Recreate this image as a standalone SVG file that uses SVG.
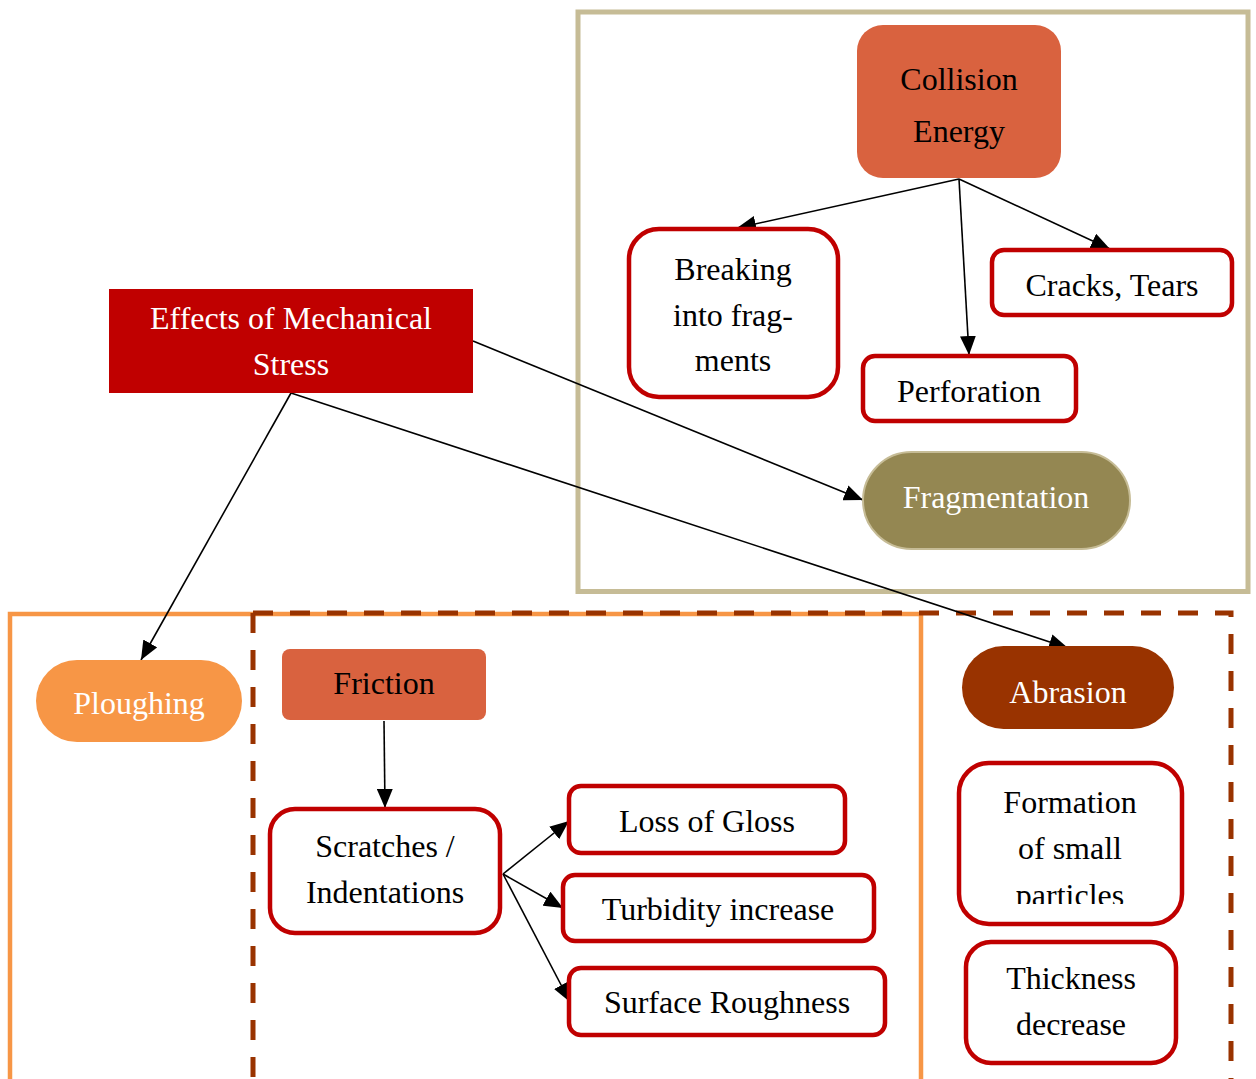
<svg xmlns="http://www.w3.org/2000/svg" width="1256" height="1079" viewBox="0 0 1256 1079">
  <style>
    .t { font-family: "Liberation Serif", "Times New Roman", serif; font-size: 32px; text-anchor: middle; }
    .dark { fill: #000000; }
    .light { fill: #ffffff; }
    .outline { fill: #ffffff; stroke: #C00000; stroke-width: 4.5; }
    .edge { fill: none; stroke: #000000; stroke-width: 1.6; marker-end: url(#arrow); }
    .dash { fill: none; stroke: #993300; stroke-width: 5; stroke-dasharray: 20 17; }
  </style>
  <defs>
    <marker id="arrow" markerUnits="userSpaceOnUse" markerWidth="20" markerHeight="16" refX="19" refY="8" orient="auto">
      <path d="M0,0 L19,8 L0,16 z" fill="#000000"/>
    </marker>
    <clipPath id="clipFormation">
      <rect x="950" y="760" width="240" height="144"/>
    </clipPath>
  </defs>

  <rect width="1256" height="1079" fill="#ffffff"/>

  <!-- grouping frames -->
  <g id="frames">
    <rect x="578" y="12" width="670" height="579.5" fill="none" stroke="#C6BC96" stroke-width="5"/>
    <path d="M10,1085 L10,614 L921,614 L921,1085" fill="none" stroke="#F79646" stroke-width="4.5"/>
    <path class="dash" d="M253,613 L253,1085"/>
    <path class="dash" d="M253,613 L1231,613 L1231,1085"/>
  </g>

  <!-- connectors -->
  <g id="connectors">
    <line class="edge" x1="959" y1="179" x2="737" y2="228"/>
    <line class="edge" x1="959" y1="179" x2="969" y2="355"/>
    <line class="edge" x1="959" y1="179" x2="1110" y2="249"/>
    <line class="edge" x1="473" y1="341" x2="863" y2="500"/>
    <line class="edge" x1="291" y1="393" x2="141" y2="660"/>
    <line class="edge" x1="291" y1="393" x2="1068" y2="648"/>
    <line class="edge" x1="384" y1="721" x2="385" y2="808"/>
    <line class="edge" x1="503" y1="874" x2="569" y2="821"/>
    <line class="edge" x1="503" y1="874" x2="563" y2="908"/>
    <line class="edge" x1="503" y1="874" x2="570" y2="1002"/>
  </g>

  <!-- nodes -->
  <g id="collision-energy">
    <rect x="857" y="25" width="204" height="153" rx="26" fill="#D9623F"/>
    <text class="t dark" x="959" y="90">Collision</text>
    <text class="t dark" x="959" y="142">Energy</text>
  </g>

  <g id="breaking">
    <rect class="outline" x="629" y="229" width="209" height="168" rx="30"/>
    <text class="t dark" x="733" y="280">Breaking</text>
    <text class="t dark" x="733" y="326">into frag-</text>
    <text class="t dark" x="733" y="371">ments</text>
  </g>

  <g id="cracks-tears">
    <rect class="outline" x="992" y="250" width="240" height="65" rx="12"/>
    <text class="t dark" x="1112" y="296">Cracks, Tears</text>
  </g>

  <g id="perforation">
    <rect class="outline" x="863" y="356" width="213" height="65" rx="12"/>
    <text class="t dark" x="969" y="402">Perforation</text>
  </g>

  <g id="fragmentation">
    <rect x="863" y="452" width="267" height="97" rx="48.5" fill="#948752" stroke="#C6BC96" stroke-width="2"/>
    <text class="t light" x="996" y="508">Fragmentation</text>
  </g>

  <g id="mechanical-stress">
    <rect x="109" y="289" width="364" height="104" fill="#C00000"/>
    <text class="t light" x="291" y="329">Effects of Mechanical</text>
    <text class="t light" x="291" y="375">Stress</text>
  </g>

  <g id="ploughing">
    <rect x="36" y="660" width="206" height="82" rx="41" fill="#F79646"/>
    <text class="t light" x="139" y="714">Ploughing</text>
  </g>

  <g id="friction">
    <rect x="282" y="649" width="204" height="71" rx="8" fill="#D9623F"/>
    <text class="t dark" x="384" y="694">Friction</text>
  </g>

  <g id="scratches">
    <rect class="outline" x="270" y="809" width="230" height="124" rx="25"/>
    <text class="t dark" x="385" y="857">Scratches /</text>
    <text class="t dark" x="385" y="903">Indentations</text>
  </g>

  <g id="loss-of-gloss">
    <rect class="outline" x="569" y="786" width="276" height="67" rx="12"/>
    <text class="t dark" x="707" y="832">Loss of Gloss</text>
  </g>

  <g id="turbidity">
    <rect class="outline" x="563" y="875" width="311" height="66" rx="12"/>
    <text class="t dark" x="718" y="920">Turbidity increase</text>
  </g>

  <g id="surface-roughness">
    <rect class="outline" x="569" y="968" width="316" height="67" rx="12"/>
    <text class="t dark" x="727" y="1013">Surface Roughness</text>
  </g>

  <g id="abrasion">
    <rect x="962" y="646" width="212" height="83" rx="41.5" fill="#993300"/>
    <text class="t light" x="1068" y="703">Abrasion</text>
  </g>

  <g id="small-particles">
    <rect class="outline" x="959" y="763" width="223" height="161" rx="30"/>
    <text class="t dark" x="1070" y="813">Formation</text>
    <text class="t dark" x="1070" y="859">of small</text>
    <text class="t dark" x="1070" y="906" clip-path="url(#clipFormation)">particles</text>
  </g>

  <g id="thickness">
    <rect class="outline" x="966" y="942" width="210" height="121" rx="25"/>
    <text class="t dark" x="1071" y="989">Thickness</text>
    <text class="t dark" x="1071" y="1035">decrease</text>
  </g>
</svg>
